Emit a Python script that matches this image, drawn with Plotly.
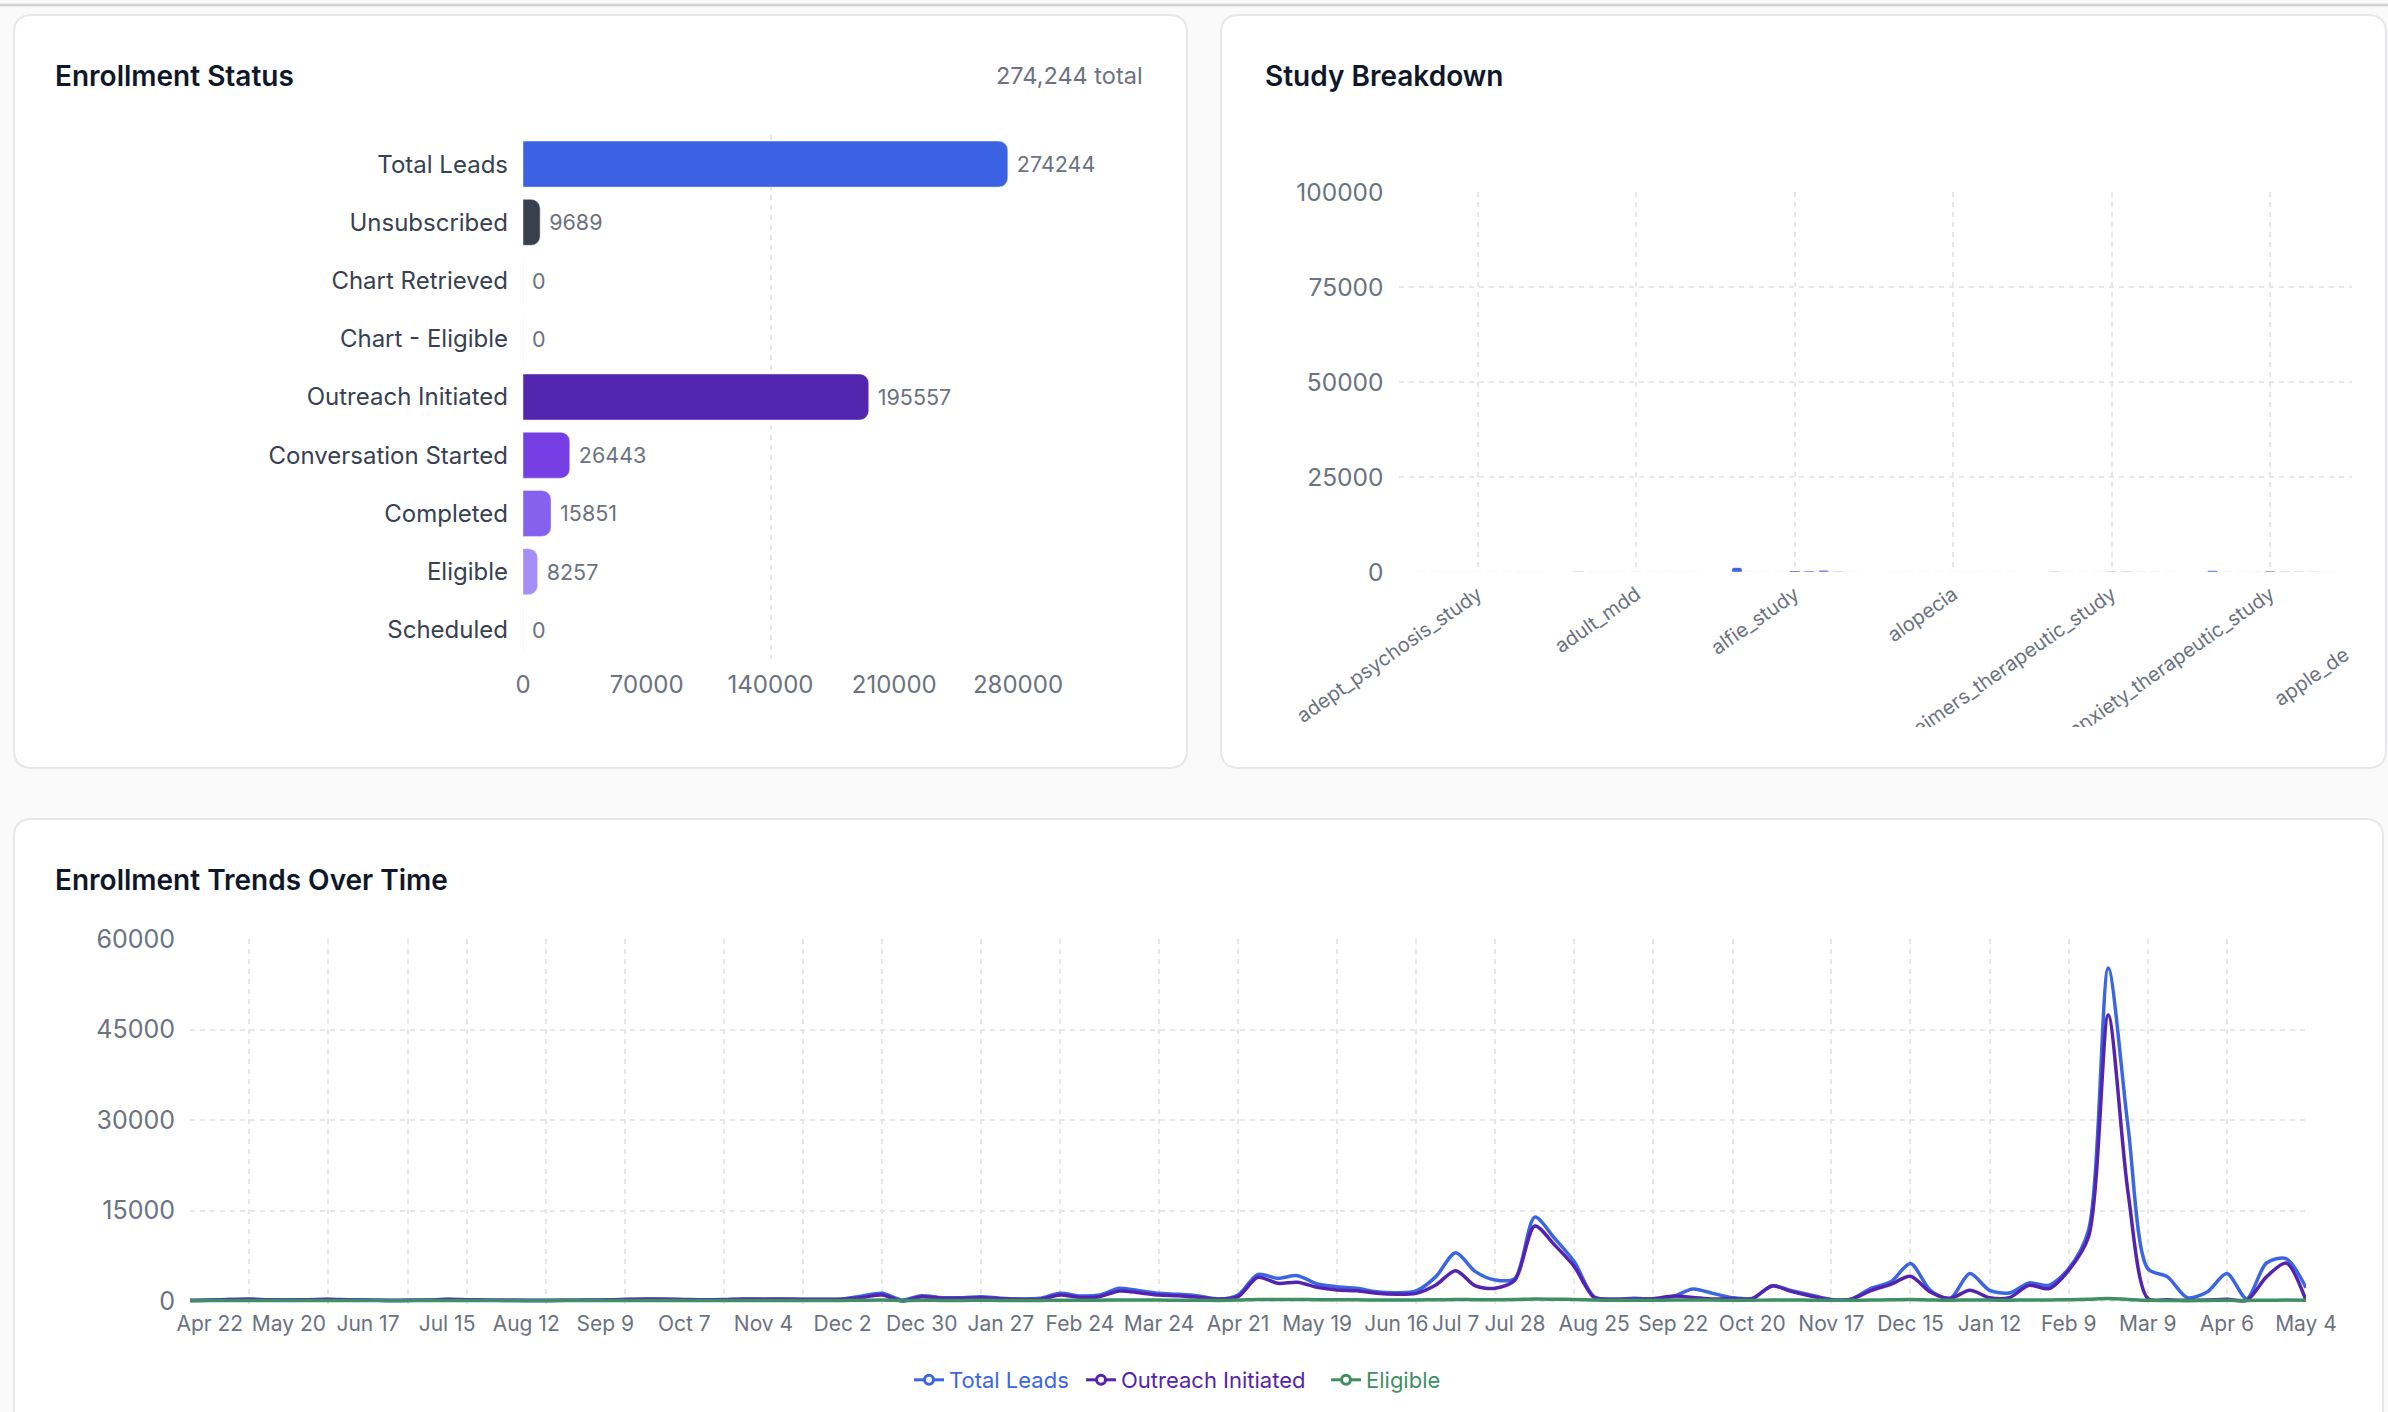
import pandas as pd
import plotly.graph_objects as go

# Page geometry in screenshot pixels (body margin is zeroed after load)
W, H = 2388, 1412


def px(X):
    return X / W


def py(Y):
    return 1 - Y / H


FONT = "Inter"
TITLE_COLOR = "#0f172a"
LABEL_COLOR = "#374151"
TICK_COLOR = "#6b7280"
GRID_COLOR = "#e5e7eb"
PAGE_BG = "#fafafa"

# ---- Enrollment Status (horizontal bars)
STATUS_LABELS = ["Total Leads", "Unsubscribed", "Chart Retrieved", "Chart - Eligible",
                 "Outreach Initiated", "Conversation Started", "Completed", "Eligible", "Scheduled"]
STATUS_VALUES = [274244, 9689, 0, 0, 195557, 26443, 15851, 8257, 0]
STATUS_COLORS = ["#3a62e2", "#383f4d", "#0ea5e9", "#14b8a6", "#5425af",
                 "#763fe4", "#8661ee", "#a58ef5", "#22c55e"]
STATUS_TICKS = [0, 70000, 140000, 210000, 280000]
STATUS_GRID = [0, 140000, 280000]

# ---- Study Breakdown (grouped bars, one series per status)
STUDIES = ["adept_psychosis_study", "adult_mdd", "alfie_study", "alopecia",
           "alzheimers_therapeutic_study", "anxiety_therapeutic_study", "apple_dev"]
STUDY_TOTAL_LEADS = [0, 60, 1150, 0, 90, 300, 0]
STUDY_UNSUBSCRIBED = [0, 0, 30, 0, 0, 10, 0]
STUDY_CHART_RETRIEVED = [0, 0, 0, 0, 0, 0, 0]
STUDY_CHART_ELIGIBLE = [0, 0, 0, 0, 0, 0, 0]
STUDY_OUTREACH = [0, 20, 280, 0, 60, 220, 0]
STUDY_CONVERSATION = [0, 10, 250, 0, 40, 70, 0]
STUDY_COMPLETED = [0, 5, 450, 0, 15, 60, 0]
STUDY_ELIGIBLE = [0, 0, 120, 0, 10, 40, 0]
STUDY_SCHEDULED = [0, 0, 0, 0, 0, 0, 0]
STUDY_TICKS = [0, 25000, 50000, 75000, 100000]

# ---- Enrollment Trends Over Time (weekly, from Monday 2024-04-15)
TREND_START = "2024-04-15"
TOTAL_LEADS = [
    120, 150, 250, 300, 200, 180, 220, 280, 200, 150, 120, 130, 150, 280, 220,
    150, 130, 120, 110, 130, 150, 180, 260, 320, 300, 250, 200, 240, 330, 300,
    330, 280, 280, 330, 830, 1270, 160, 880, 550, 550, 720, 440, 330, 440, 1270,
    830, 1000, 2100, 1700, 1270, 1100, 830, 330, 1000, 4420, 3760, 4200, 2820, 2380, 2100,
    1550, 1380, 1660, 4040, 8000, 4870, 3480, 3760, 13900, 10400, 6500, 720, 280, 440, 330,
    720, 2000, 1270, 550, 440, 2500, 1700, 970, 250, 300, 2080, 3170, 6220, 1770, 400,
    4540, 1770, 1330, 3000, 2600, 5370, 11700, 55200, 28900, 5370, 4000, 550, 1500, 4540, 390,
    6300, 7030, 2200,
]
OUTREACH = [
    100, 130, 230, 280, 180, 160, 200, 260, 180, 130, 100, 110, 130, 250, 200,
    130, 110, 100, 90, 110, 130, 160, 230, 290, 270, 220, 180, 210, 300, 270,
    300, 250, 250, 300, 600, 1000, 0, 720, 440, 440, 550, 390, 280, 280, 1000,
    600, 720, 1660, 1380, 1000, 880, 600, 280, 720, 3930, 2930, 3100, 2270, 1820, 1700,
    1270, 1100, 1270, 2650, 5030, 2500, 2100, 3480, 12440, 9300, 5700, 600, 280, 330, 390,
    830, 600, 330, 390, 390, 2500, 1550, 800, 200, 300, 1730, 2760, 4100, 1500, 440,
    1770, 550, 550, 2600, 2050, 5090, 10600, 47400, 18000, 440, 200, 100, 150, 300, 100,
    4000, 6300, 100,
]
ELIGIBLE = [
    60, 70, 80, 80, 70, 70, 80, 90, 80, 70, 60, 60, 70, 80, 80,
    70, 60, 60, 60, 70, 70, 80, 90, 100, 100, 90, 80, 90, 100, 100,
    100, 90, 90, 100, 120, 150, 90, 110, 100, 100, 110, 100, 90, 90, 130,
    120, 130, 180, 170, 150, 140, 120, 100, 150, 260, 240, 250, 220, 200, 190,
    180, 170, 180, 200, 260, 220, 210, 240, 330, 300, 250, 150, 120, 120, 130,
    150, 180, 160, 130, 120, 170, 160, 140, 110, 120, 160, 200, 260, 170, 110,
    180, 150, 140, 170, 170, 220, 300, 420, 260, 120, 100, 90, 100, 120, 90,
    130, 150, 120,
]
TICK_DATES = ["2024-04-22", "2024-05-20", "2024-06-17", "2024-07-15", "2024-08-12", "2024-09-09",
              "2024-10-07", "2024-11-04", "2024-12-02", "2024-12-30", "2025-01-27", "2025-02-24",
              "2025-03-24", "2025-04-21", "2025-05-19", "2025-06-16", "2025-07-07", "2025-07-28",
              "2025-08-25", "2025-09-22", "2025-10-20", "2025-11-17", "2025-12-15", "2026-01-12",
              "2026-02-09", "2026-03-09", "2026-04-06", "2026-05-04"]
TICK_TEXT = ["Apr 22", "May 20", "Jun 17", "Jul 15", "Aug 12", "Sep 9", "Oct 7", "Nov 4",
             "Dec 2", "Dec 30", "Jan 27", "Feb 24", "Mar 24", "Apr 21", "May 19", "Jun 16",
             "Jul 7", "Jul 28", "Aug 25", "Sep 22", "Oct 20", "Nov 17", "Dec 15", "Jan 12",
             "Feb 9", "Mar 9", "Apr 6", "May 4"]
GRID_WEEKS = [0, 3, 7, 11, 14, 18, 22, 27, 31, 35, 40, 44, 49, 53, 58, 62, 66, 70,
              74, 78, 83, 87, 91, 95, 99, 103, 107]
TREND_TICKS = [0, 15000, 30000, 45000, 60000]
TREND_COLORS = {"Total Leads": "#3a66e4", "Outreach Initiated": "#5424b0", "Eligible": "#3f8f63"}

dates = pd.date_range(TREND_START, periods=len(TOTAL_LEADS), freq="7D")
grid_dates = [dates[w] for w in GRID_WEEKS]

# small headroom under zero so the baseline strokes are not cut in half
TREND_FLOOR = -500
trend_bottom = 1301 + (-TREND_FLOOR) * (1301 - 939) / 60000

fig = go.Figure()

# Enrollment Status bars
fig.add_trace(go.Bar(
    x=STATUS_VALUES, y=STATUS_LABELS, orientation="h",
    marker=dict(color=STATUS_COLORS, cornerradius=9),
    width=0.79,
    text=["\u00a0" + str(v) for v in STATUS_VALUES],
    textposition="outside", constraintext="none", cliponaxis=False,
    textfont=dict(family=FONT, size=21.5, color=TICK_COLOR),
    xaxis="x", yaxis="y", showlegend=False, hoverinfo="skip",
))

# Study Breakdown grouped bars
study_series = [STUDY_TOTAL_LEADS, STUDY_UNSUBSCRIBED, STUDY_CHART_RETRIEVED, STUDY_CHART_ELIGIBLE,
                STUDY_OUTREACH, STUDY_CONVERSATION, STUDY_COMPLETED, STUDY_ELIGIBLE, STUDY_SCHEDULED]
for name, vals, col in zip(STATUS_LABELS, study_series, STATUS_COLORS):
    fig.add_trace(go.Bar(
        x=STUDIES, y=vals, name=name, marker=dict(color=col, cornerradius=2),
        xaxis="x2", yaxis="y2", showlegend=False, hoverinfo="skip",
    ))

# Trend lines
for name, vals in [("Total Leads", TOTAL_LEADS), ("Outreach Initiated", OUTREACH), ("Eligible", ELIGIBLE)]:
    fig.add_trace(go.Scatter(
        x=dates, y=vals, mode="lines", name=name,
        line=dict(color=TREND_COLORS[name], width=3.5, shape="spline", smoothing=0.8),
        xaxis="x3", yaxis="y3", showlegend=False, cliponaxis=False,
    ))

# legend entries (one legend each so the text takes the series colour)
for name, leg in [("Total Leads", "legend"), ("Outreach Initiated", "legend2"), ("Eligible", "legend3")]:
    c = TREND_COLORS[name]
    fig.add_trace(go.Scatter(
        x=[None], y=[None], mode="lines+markers", name=name, legend=leg,
        line=dict(color=c, width=3),
        marker=dict(symbol="circle", size=9, color="white", line=dict(color=c, width=3)),
        xaxis="x3", yaxis="y3",
    ))

# empty traces so the overlay grid axes get drawn
fig.add_trace(go.Scatter(x=[None], y=[None], xaxis="x4", yaxis="y", showlegend=False, hoverinfo="skip"))
fig.add_trace(go.Scatter(x=[None], y=[None], xaxis="x5", yaxis="y3", showlegend=False, hoverinfo="skip"))
fig.add_trace(go.Scatter(x=[None], y=[None], xaxis="x6", yaxis="y2", showlegend=False, hoverinfo="skip"))

grid = dict(showgrid=True, gridcolor=GRID_COLOR, gridwidth=1.5, griddash="5px,5px")
noline = dict(zeroline=False, showline=False, ticks="")

fig.update_layout(
    width=W, height=H, autosize=False,
    margin=dict(l=0, r=0, t=0, b=0, autoexpand=False),
    paper_bgcolor=PAGE_BG, plot_bgcolor="rgba(0,0,0,0)",
    font=dict(family=FONT, color=TICK_COLOR),
    bargap=0.18, bargroupgap=0.3, barmode="group",
    hovermode=False,
    # Enrollment Status
    xaxis=dict(domain=[px(523), px(1018)], anchor="y", range=[0, 280000],
               tickvals=STATUS_TICKS, tickformat="d", showgrid=False,
               tickfont=dict(family=FONT, size=24, color=TICK_COLOR),
               ticklabelstandoff=9, **noline),
    yaxis=dict(domain=[py(659), py(135)], anchor="x", type="category", autorange="reversed",
               showgrid=False, tickfont=dict(family=FONT, size=24, color=LABEL_COLOR),
               ticklabelstandoff=14, **noline),
    xaxis4=dict(overlaying="x", anchor="y", range=[0, 280000], tickvals=STATUS_GRID,
                showticklabels=False, **grid, **noline),
    # Study Breakdown
    xaxis2=dict(domain=[px(1398.5), px(2352)], anchor="y2", type="category", range=[-0.5, 5.516],
                tickangle=-35, showgrid=False, tickfont=dict(family=FONT, size=20, color=TICK_COLOR),
                ticklabelstandoff=6, **noline),
    yaxis2=dict(domain=[py(572), py(192)], anchor="x2", range=[0, 100000], tickvals=STUDY_TICKS,
                tickformat="d", tickfont=dict(family=FONT, size=24.5, color=TICK_COLOR),
                ticklabelstandoff=14, **grid, **noline),
    xaxis6=dict(overlaying="x2", anchor="y2", range=[-0.5, 5.516], tickvals=[-0.5, 0, 1, 2, 3, 4, 5],
                showticklabels=False, **grid, **noline),
    # Trends
    xaxis3=dict(domain=[px(190), px(2306)], anchor="y3", type="date",
                range=[dates[0], dates[-1]], tickvals=TICK_DATES, ticktext=TICK_TEXT, tickangle=0,
                showgrid=False, tickfont=dict(family=FONT, size=21, color=TICK_COLOR),
                ticklabelstandoff=5, **noline),
    yaxis3=dict(domain=[py(trend_bottom), py(939)], anchor="x3", range=[TREND_FLOOR, 60000],
                tickvals=TREND_TICKS, tickformat="d", tickfont=dict(family=FONT, size=25, color=TICK_COLOR),
                ticklabelstandoff=14, **grid, **noline),
    xaxis5=dict(overlaying="x3", anchor="y3", type="date", range=[dates[0], dates[-1]],
                tickvals=grid_dates, showticklabels=False, **grid, **noline),
)

for leg, X, c in [("legend", 909, "Total Leads"), ("legend2", 1081, "Outreach Initiated"),
                  ("legend3", 1326, "Eligible")]:
    fig.update_layout({leg: dict(x=px(X), y=py(1380), xanchor="left", yanchor="middle",
                                 orientation="h", bgcolor="rgba(0,0,0,0)", borderwidth=0,
                                 itemwidth=30,
                                 font=dict(family=FONT, size=22, color=TREND_COLORS[c]))})


def card_path(x0, y0, x1, y1, r=18):
    X0, X1, Y0, Y1 = px(x0), px(x1), py(y0), py(y1)
    rx, ry = r / W, r / H
    return (f"M{X0 + rx},{Y0} L{X1 - rx},{Y0} Q{X1},{Y0} {X1},{Y0 - ry} "
            f"L{X1},{Y1 + ry} Q{X1},{Y1} {X1 - rx},{Y1} L{X0 + rx},{Y1} "
            f"Q{X0},{Y1} {X0},{Y1 + ry} L{X0},{Y0 - ry} Q{X0},{Y0} {X0 + rx},{Y0} Z")


cards = [(14, 15, 1187, 768), (1221, 15, 2386, 768), (14, 819, 2383, 1440)]
shapes = [dict(type="line", xref="paper", yref="paper", x0=0, x1=1, y0=py(5), y1=py(5),
               line=dict(color="#d0d0d0", width=2.5), layer="below")]
for c in cards:
    shapes.append(dict(type="path", xref="paper", yref="paper", path=card_path(*c),
                       fillcolor="white", line=dict(width=0), layer="below"))
# clip the rotated study labels at the bottom of their box
shapes.append(dict(type="rect", xref="paper", yref="paper", x0=px(1223), x1=px(2384),
                   y0=py(766), y1=py(727), fillcolor="white", line=dict(width=0), layer="above"))
for c in cards:
    shapes.append(dict(type="path", xref="paper", yref="paper", path=card_path(*c),
                       fillcolor="rgba(0,0,0,0)", line=dict(color="#e5e7eb", width=2), layer="above"))
fig.update_layout(shapes=shapes)

title_font = dict(family=FONT, size=28, color=TITLE_COLOR, weight=600)
annotations = [
    dict(text="Enrollment Status", x=px(53), y=py(76), font=title_font),
    dict(text="Study Breakdown", x=px(1263), y=py(76), font=title_font),
    dict(text="Enrollment Trends Over Time", x=px(53), y=py(880), font=title_font),
]
for a in annotations:
    a.update(xref="paper", yref="paper", xanchor="left", yanchor="middle", showarrow=False)
annotations.append(dict(text=f"{STATUS_VALUES[0]:,} total", x=px(1145), y=py(76), xref="paper",
                        yref="paper", xanchor="right", yanchor="middle", showarrow=False,
                        font=dict(family=FONT, size=23.5, color=TICK_COLOR)))
# label of the study that runs past the clipped edge of the panel
annotations.append(dict(text="apple_de", x=px(2311), y=py(677), xref="paper", yref="paper",
                        xanchor="center", yanchor="middle", showarrow=False, textangle=-35,
                        font=dict(family=FONT, size=20, color=TICK_COLOR)))
fig.update_layout(annotations=annotations)

fig.write_html("out.html", config={"displayModeBar": False},
               post_script="document.body.style.margin='0';")
